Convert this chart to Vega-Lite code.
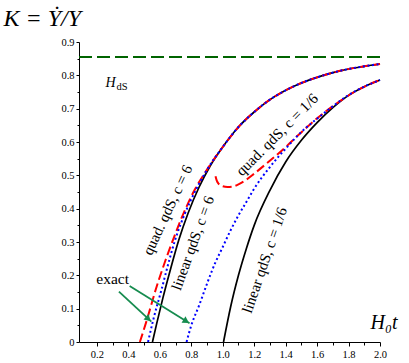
{
  "$schema": "https://vega.github.io/schema/vega-lite/v6.json",
  "autosize": {"type": "none"},
  "padding": {"left": 79, "top": 42, "right": 29, "bottom": 21},
  "width": 301,
  "height": 300,
  "background": "white",
  "config": {
    "view": {"stroke": null},
    "font": "Liberation Serif",
    "axis": {"grid": false, "domainColor": "black", "tickColor": "black", "labelColor": "black", "titleColor": "black", "labelFont": "Liberation Serif", "titleFont": "Liberation Serif", "labelFontSize": 10.5, "domainWidth": 1, "tickWidth": 1}
  },
  "datasets": {
    "curves": [
      {"s": "lin6", "t": 0.553, "K": 0}, {"s": "lin6", "t": 0.58, "K": 0.055}, {"s": "lin6", "t": 0.62, "K": 0.133}, {"s": "lin6", "t": 0.67, "K": 0.222}, {"s": "lin6", "t": 0.72, "K": 0.305}, {"s": "lin6", "t": 0.78, "K": 0.387}, {"s": "lin6", "t": 0.85, "K": 0.465}, {"s": "lin6", "t": 0.92, "K": 0.528}, {"s": "lin6", "t": 1.0, "K": 0.585}, {"s": "lin6", "t": 1.1, "K": 0.645}, {"s": "lin6", "t": 1.2, "K": 0.69}, {"s": "lin6", "t": 1.3, "K": 0.727}, {"s": "lin6", "t": 1.4, "K": 0.755}, {"s": "lin6", "t": 1.5, "K": 0.777}, {"s": "lin6", "t": 1.6, "K": 0.794}, {"s": "lin6", "t": 1.7, "K": 0.808}, {"s": "lin6", "t": 1.8, "K": 0.819}, {"s": "lin6", "t": 1.9, "K": 0.827}, {"s": "lin6", "t": 2.0, "K": 0.834},
      {"s": "quad6", "t": 0.473, "K": 0}, {"s": "quad6", "t": 0.52, "K": 0.07}, {"s": "quad6", "t": 0.573, "K": 0.156}, {"s": "quad6", "t": 0.63, "K": 0.237}, {"s": "quad6", "t": 0.685, "K": 0.308}, {"s": "quad6", "t": 0.75, "K": 0.385}, {"s": "quad6", "t": 0.82, "K": 0.455}, {"s": "quad6", "t": 0.9, "K": 0.517}, {"s": "quad6", "t": 1.0, "K": 0.585}, {"s": "quad6", "t": 1.1, "K": 0.645}, {"s": "quad6", "t": 1.2, "K": 0.69}, {"s": "quad6", "t": 1.3, "K": 0.727}, {"s": "quad6", "t": 1.4, "K": 0.755}, {"s": "quad6", "t": 1.5, "K": 0.777}, {"s": "quad6", "t": 1.6, "K": 0.794}, {"s": "quad6", "t": 1.7, "K": 0.808}, {"s": "quad6", "t": 1.8, "K": 0.819}, {"s": "quad6", "t": 1.9, "K": 0.827}, {"s": "quad6", "t": 2.0, "K": 0.834},
      {"s": "exact6", "t": 0.525, "K": 0}, {"s": "exact6", "t": 0.56, "K": 0.07}, {"s": "exact6", "t": 0.61, "K": 0.156}, {"s": "exact6", "t": 0.65, "K": 0.228}, {"s": "exact6", "t": 0.695, "K": 0.303}, {"s": "exact6", "t": 0.76, "K": 0.386}, {"s": "exact6", "t": 0.83, "K": 0.457}, {"s": "exact6", "t": 0.9, "K": 0.517}, {"s": "exact6", "t": 1.0, "K": 0.585}, {"s": "exact6", "t": 1.1, "K": 0.645}, {"s": "exact6", "t": 1.2, "K": 0.69}, {"s": "exact6", "t": 1.3, "K": 0.727}, {"s": "exact6", "t": 1.4, "K": 0.755}, {"s": "exact6", "t": 1.5, "K": 0.777}, {"s": "exact6", "t": 1.6, "K": 0.794}, {"s": "exact6", "t": 1.7, "K": 0.808}, {"s": "exact6", "t": 1.8, "K": 0.819}, {"s": "exact6", "t": 1.9, "K": 0.827}, {"s": "exact6", "t": 2.0, "K": 0.834},
      {"s": "lin16", "t": 1.005, "K": 0}, {"s": "lin16", "t": 1.05, "K": 0.105}, {"s": "lin16", "t": 1.1, "K": 0.2}, {"s": "lin16", "t": 1.15, "K": 0.28}, {"s": "lin16", "t": 1.2, "K": 0.35}, {"s": "lin16", "t": 1.3, "K": 0.455}, {"s": "lin16", "t": 1.4, "K": 0.54}, {"s": "lin16", "t": 1.5, "K": 0.605}, {"s": "lin16", "t": 1.6, "K": 0.658}, {"s": "lin16", "t": 1.7, "K": 0.703}, {"s": "lin16", "t": 1.8, "K": 0.74}, {"s": "lin16", "t": 1.9, "K": 0.766}, {"s": "lin16", "t": 2.0, "K": 0.786},
      {"s": "quad16", "t": 0.954, "K": 0.497}, {"s": "quad16", "t": 0.962, "K": 0.484}, {"s": "quad16", "t": 0.975, "K": 0.474}, {"s": "quad16", "t": 0.995, "K": 0.468}, {"s": "quad16", "t": 1.03, "K": 0.465}, {"s": "quad16", "t": 1.06, "K": 0.466}, {"s": "quad16", "t": 1.1, "K": 0.473}, {"s": "quad16", "t": 1.15, "K": 0.487}, {"s": "quad16", "t": 1.2, "K": 0.505}, {"s": "quad16", "t": 1.28, "K": 0.536}, {"s": "quad16", "t": 1.38, "K": 0.576}, {"s": "quad16", "t": 1.49, "K": 0.625}, {"s": "quad16", "t": 1.56, "K": 0.655}, {"s": "quad16", "t": 1.65, "K": 0.69}, {"s": "quad16", "t": 1.75, "K": 0.724}, {"s": "quad16", "t": 1.85, "K": 0.754}, {"s": "quad16", "t": 2.0, "K": 0.786},
      {"s": "exact16", "t": 0.77, "K": 0}, {"s": "exact16", "t": 0.8, "K": 0.05}, {"s": "exact16", "t": 0.85, "K": 0.11}, {"s": "exact16", "t": 0.9, "K": 0.175}, {"s": "exact16", "t": 0.95, "K": 0.235}, {"s": "exact16", "t": 1.0, "K": 0.285}, {"s": "exact16", "t": 1.05, "K": 0.335}, {"s": "exact16", "t": 1.1, "K": 0.38}, {"s": "exact16", "t": 1.15, "K": 0.42}, {"s": "exact16", "t": 1.2, "K": 0.46}, {"s": "exact16", "t": 1.3, "K": 0.525}, {"s": "exact16", "t": 1.4, "K": 0.58}, {"s": "exact16", "t": 1.5, "K": 0.63}, {"s": "exact16", "t": 1.6, "K": 0.67}, {"s": "exact16", "t": 1.7, "K": 0.707}, {"s": "exact16", "t": 1.8, "K": 0.741}, {"s": "exact16", "t": 1.9, "K": 0.766}, {"s": "exact16", "t": 2.0, "K": 0.786}
    ],
    "hds": [{"t": 0.086, "K": 0.855}, {"t": 2.0, "K": 0.855}],
    "arrows": [
      {"id": "a1", "t": 0.34, "K": 0.151, "t2": 0.546, "K2": 0.061},
      {"id": "a2", "t": 0.408, "K": 0.168, "t2": 0.789, "K2": 0.056}
    ]
  },
  "encoding": {
    "x": {"field": "t", "type": "quantitative", "scale": {"domain": [0.086, 2.0], "nice": false, "zero": false},
      "axis": {"title": "H₀t", "titleFont": "Liberation Serif", "titleFontSize": 20, "titleFontStyle": "italic", "titleFontWeight": "normal", "titleX": 291, "titleY": -14, "titleAlign": "left", "titleBaseline": "alphabetic", "titleAngle": 0,
        "values": [0.2, 0.3, 0.4, 0.5, 0.6, 0.7, 0.8, 0.9, 1.0, 1.1, 1.2, 1.3, 1.4, 1.5, 1.6, 1.7, 1.8, 1.9, 2.0],
        "labelExpr": "round(datum.value*10) % 2 == 0 ? format(datum.value, '.1f') : ''",
        "labelFont": "Liberation Serif", "labelFontSize": 10.5,
        "tickSize": {"condition": {"test": "round(datum.value*10) % 2 == 0", "value": 4}, "value": 3},
        "labelPadding": 3, "labelFlush": false, "labelOverlap": false}},
    "y": {"field": "K", "type": "quantitative", "scale": {"domain": [0, 0.9], "nice": false},
      "axis": {"title": "K = Ẏ/Y", "titleFont": "Liberation Serif", "titleFontSize": 24, "titleFontStyle": "italic", "titleFontWeight": "normal", "titleAngle": 0, "titleX": -76, "titleY": -17, "titleAlign": "left", "titleBaseline": "alphabetic",
        "values": [0, 0.05, 0.1, 0.15, 0.2, 0.25, 0.3, 0.35, 0.4, 0.45, 0.5, 0.55, 0.6, 0.65, 0.7, 0.75, 0.8, 0.85, 0.9],
        "labelExpr": "round(datum.value*100) % 10 == 0 ? (datum.value == 0 ? '0' : format(datum.value, '.1f')) : ''",
        "labelFont": "Liberation Serif", "labelFontSize": 10.5,
        "tickSize": {"condition": {"test": "round(datum.value*100) % 10 == 0", "value": 3}, "value": 2},
        "labelPadding": 2, "labelFlush": false, "labelOverlap": false}}
  },
  "layer": [
    {"data": {"name": "hds"}, "mark": {"type": "line", "color": "#006400", "strokeWidth": 2, "strokeDash": [13, 5]}},
    {"data": {"name": "curves"}, "transform": [{"filter": "datum.s == 'lin6' || datum.s == 'lin16'"}], "mark": {"type": "line", "color": "black", "strokeWidth": 1.7, "interpolate": "monotone"}, "encoding": {"detail": {"field": "s"}}},
    {"data": {"name": "curves"}, "transform": [{"filter": "datum.s == 'quad6' || datum.s == 'quad16'"}], "mark": {"type": "line", "color": "#ff0000", "strokeWidth": 2, "strokeDash": [9, 4], "interpolate": "monotone"}, "encoding": {"detail": {"field": "s"}}},
    {"data": {"name": "curves"}, "transform": [{"filter": "datum.s == 'exact6' || datum.s == 'exact16'"}], "mark": {"type": "line", "color": "#0000ff", "strokeWidth": 2, "strokeDash": [2, 2.6], "interpolate": "monotone"}, "encoding": {"detail": {"field": "s"}}},
    {"data": {"name": "arrows"}, "mark": {"type": "rule", "color": "#168c4f", "strokeWidth": 1.8}, "encoding": {"x2": {"field": "t2"}, "y2": {"field": "K2"}}},
    {"data": {"values": [{"t": 0.527, "K": 0.069}]}, "mark": {"type": "point", "shape": "triangle-right", "filled": true, "color": "#168c4f", "size": 55, "angle": 43, "opacity": 1}},
    {"data": {"values": [{"t": 0.768, "K": 0.0624}]}, "mark": {"type": "point", "shape": "triangle-right", "filled": true, "color": "#168c4f", "size": 55, "angle": 32, "opacity": 1}},
    {"data": {"values": [{"label": "exact", "t": 0.3, "K": 0.189}]}, "mark": {"type": "text", "fontSize": 15.5, "font": "Liberation Serif", "align": "center", "baseline": "middle"}, "encoding": {"text": {"field": "label"}}},
    {"data": {"values": [{"label": "H", "t": 0.255, "K": 0.765}]}, "mark": {"type": "text", "fontSize": 14, "fontStyle": "italic", "font": "Liberation Serif", "align": "left", "baseline": "alphabetic"}, "encoding": {"text": {"field": "label"}}},
    {"data": {"values": [{"label": "dS", "t": 0.325, "K": 0.756}]}, "mark": {"type": "text", "fontSize": 10.5, "font": "Liberation Serif", "align": "left", "baseline": "alphabetic"}, "encoding": {"text": {"field": "label"}}},
    {"data": {"values": [{"label": "quad. qdS, c = 6", "t": 0.649, "K": 0.396}]}, "mark": {"type": "text", "fontSize": 15, "font": "Liberation Serif", "align": "center", "baseline": "middle", "angle": -65}, "encoding": {"text": {"field": "label"}}},
    {"data": {"values": [{"label": "linear qdS, c = 6", "t": 0.809, "K": 0.297}]}, "mark": {"type": "text", "fontSize": 15, "font": "Liberation Serif", "align": "center", "baseline": "middle", "angle": -70}, "encoding": {"text": {"field": "label"}}},
    {"data": {"values": [{"label": "quad. qdS, c = 1/6", "t": 1.345, "K": 0.622}]}, "mark": {"type": "text", "fontSize": 15, "font": "Liberation Serif", "align": "center", "baseline": "middle", "angle": -45}, "encoding": {"text": {"field": "label"}}},
    {"data": {"values": [{"label": "linear qdS, c = 1/6", "t": 1.266, "K": 0.246}]}, "mark": {"type": "text", "fontSize": 15, "font": "Liberation Serif", "align": "center", "baseline": "middle", "angle": -71}, "encoding": {"text": {"field": "label"}}}
  ]
}
